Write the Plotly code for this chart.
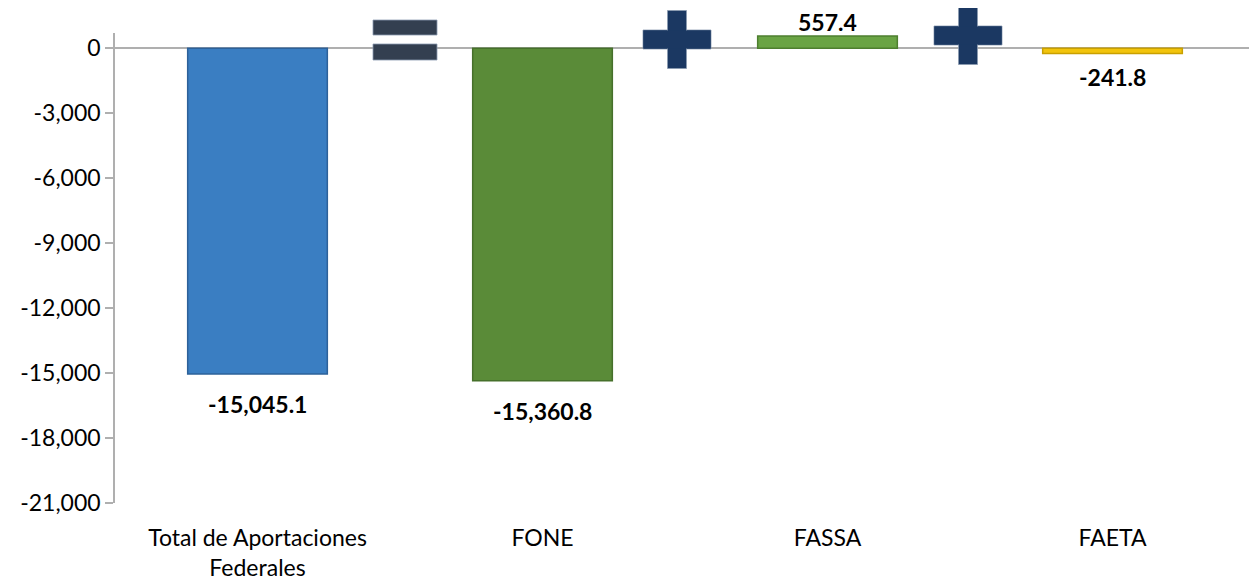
import plotly.graph_objects as go

categories = ["Total de Aportaciones<br>Federales", "FONE", "FASSA", "FAETA"]
values = [-15045.1, -15360.8, 557.4, -241.8]
bar_colors = ["#3A7EC2", "#5A8B38", "#6AA444", "#F2C40C"]
line_colors = ["#2D6199", "#46702B", "#4E7F2F", "#C9A000"]
tick_vals = [0, -3000, -6000, -9000, -12000, -15000, -18000, -21000]
tick_text = ["0", "-3,000", "-6,000", "-9,000", "-12,000", "-15,000", "-18,000", "-21,000"]
labels = [f"{v:,.1f}" for v in values]
label_shift = [-30, -30, 14, -24]

FONT = "Lato, Open Sans, sans-serif"

fig = go.Figure()
fig.add_trace(go.Bar(
    x=list(range(len(categories))), y=values,
    width=0.49,
    marker=dict(color=bar_colors, line=dict(color=line_colors, width=1.5)),
    hoverinfo="skip",
))

annotations = []
for i, (v, t, s) in enumerate(zip(values, labels, label_shift)):
    annotations.append(dict(x=i, y=v, xref="x", yref="y", text=t, showarrow=False,
                            yshift=s, font=dict(family=FONT, size=23, color="#000000", weight="bold")))

# operator symbols between the bars (decorations)
eq_col = "#333F50"
plus_col = "#1B3862"
shapes = []
def rect(x0, x1, y0, y1, col, lw=0.8):
    return dict(type="rect", xref="x", yref="paper", x0=x0, x1=x1, y0=y0, y1=y1,
                fillcolor=col, line=dict(color="#8C9AB0", width=lw), layer="above")

def py(px):
    return (503 - px) / (503 - 33)

def dx(px):
    return px / 285.0

cx = 0.5 + dx(5)
shapes.append(rect(cx - dx(32), cx + dx(32), py(35), py(20), eq_col))
shapes.append(rect(cx - dx(32), cx + dx(32), py(60), py(44), eq_col))
for cxp, cy in [(1.5 - dx(8), 39.5), (2.5 - dx(2), 35.5)]:
    shapes.append(rect(cxp - dx(34), cxp + dx(34), py(cy + 9.5), py(cy - 9.5), plus_col))
    shapes.append(rect(cxp - dx(9.5), cxp + dx(9.5), py(cy + 29), py(cy - 29), plus_col))
    shapes.append(rect(cxp - dx(33.5), cxp + dx(33.5), py(cy + 9), py(cy - 9), plus_col, lw=0))

fig.update_layout(
    width=1257, height=582,
    margin=dict(l=107, r=10, t=25, b=87, autoexpand=False),
    paper_bgcolor="white", plot_bgcolor="white",
    showlegend=False,
    shapes=shapes,
    annotations=annotations,
    font=dict(family=FONT, size=23, color="#000000"),
    xaxis=dict(
        tickmode="array", tickvals=list(range(len(categories))), ticktext=categories,
        range=[-0.5, 3.5], showline=False, showgrid=False, zeroline=False, ticks="",
        tickfont=dict(family=FONT, size=23), automargin=False, ticklabelstandoff=19,
    ),
    yaxis=dict(
        range=[-21000, 700], tickmode="array", tickvals=tick_vals, ticktext=tick_text,
        showgrid=False, zeroline=True, zerolinecolor="#AFAFAF", zerolinewidth=1.5,
        showline=True, linecolor="#AFAFAF", linewidth=1.5,
        ticks="outside", ticklen=8, tickcolor="#AFAFAF", tickwidth=1.5,
        tickfont=dict(family=FONT, size=23), automargin=False,
    ),
)

fig.write_html("out.html")
